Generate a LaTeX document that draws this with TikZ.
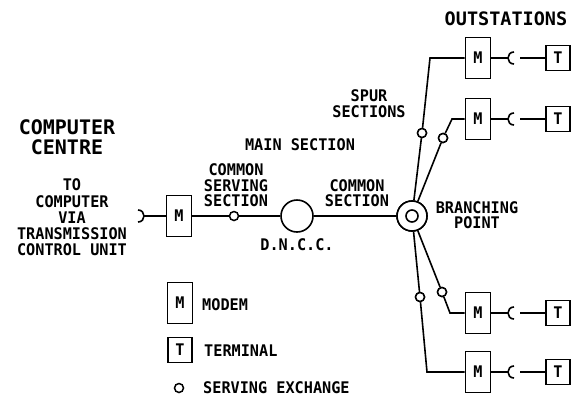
\documentclass[tikz,border=0pt]{standalone}
\usepackage{fontspec}
\setmainfont{DejaVu Sans}
\newfontfamily\lblfont{DejaVu Sans Mono Bold}[FakeStretch=0.95]
\newfontfamily\bigfont{DejaVu Sans Mono Bold}
\begin{document}
\begin{tikzpicture}[x=1pt,y=-1pt,
  ln/.style={line width=1.6pt},
  lbl/.style={font=\lblfont\fontsize{16}{16}\selectfont,align=center,inner sep=0pt},
  leg/.style={lbl,anchor=west},
  modem/.style={draw,line width=1.6pt,rectangle,minimum width=25pt,minimum height=41pt,inner sep=0pt,font=\lblfont\fontsize{16}{16}\selectfont},
  term/.style={draw,line width=1.6pt,rectangle,minimum width=24pt,minimum height=25pt,inner sep=0pt,font=\lblfont\fontsize{16}{16}\selectfont},
  sx/.style={draw,circle,line width=1.5pt,minimum size=9pt,inner sep=0pt,fill=white},
]
\useasboundingbox (0,0) rectangle (575,399);

% labels
\node[font=\bigfont\fontsize{20}{20}\selectfont,align=center,inner sep=0pt] (cc) at (67,137) {COMPUTER\\CENTRE};
\node[lbl,font=\lblfont\fontsize{16}{16.25}\selectfont] (tc) at (72,217.5) {TO\\COMPUTER\\VIA\\TRANSMISSION\\CONTROL UNIT};
\node[lbl,font=\lblfont\fontsize{16}{15.5}\selectfont] (css) at (236,185.5) {COMMON\\SERVING\\SECTION};
\node[lbl] (ms) at (300,145) {MAIN SECTION};
\node[lbl,font=\lblfont\fontsize{16}{15}\selectfont] (cs) at (357,193) {COMMON\\SECTION};
\node[lbl] (dl) at (297,245) {D.N.C.C.};
\node[lbl,font=\lblfont\fontsize{16}{15}\selectfont] (bl) at (477,215.5) {BRANCHING\\POINT};
\node[lbl] (sp) at (369,104) {SPUR\\SECTIONS};
\node[font=\bigfont\fontsize{18.5}{18.5}\selectfont,inner sep=0pt] (os) at (506,19) {OUTSTATIONS};

% main line
\coordinate (lp) at (138,216);
\node[modem] (m0) at (179,216) {M};
\node[sx] (s0) at (234,216) {};
\node[draw,circle,line width=1.6pt,minimum size=32pt,inner sep=0pt] (dncc) at (297,216) {};
\node[draw,circle,line width=1.6pt,minimum size=30pt,inner sep=0pt] (bp) at (412,216) {};

\draw[ln] (lp) ++(0,-6) .. controls +(8,0) and +(8,0) .. +(0,12);
\draw[ln] ([xshift=6pt]lp) -- (m0.west);
\draw[ln] (m0.east) -- (s0) -- (dncc.west);
\draw[ln] (dncc.east) -- (bp.west);

% outstations
\foreach \k/\y/\cx/\sxx/\syy in {1/58/430/422/133, 2/119/452/443/138, 3/313/450/442/292, 4/372/427/420/297}{
  \node[modem] (m\k) at (478,\y) {M};
  \node[term] (t\k) at (558,\y) {T};
  \coordinate (c\k) at (\cx,\y);
  \coordinate (p\k) at (508,\y);
  \coordinate (q\k) at (520,\y);
  \node[sx] (s\k) at (\sxx,\syy) {};
  \draw[ln] (bp) -- (s\k) -- (c\k) -- (m\k.west);
  \node[sx] at (s\k) {};
  \draw[ln] (m\k.east) -- (p\k);
  \draw[ln] ([shift={(6,-6)}]p\k) .. controls ([shift={(-2,-6)}]p\k) and ([shift={(-2,6)}]p\k) .. ([shift={(6,6)}]p\k);
  \draw[ln] (q\k) -- (t\k.west);
}
\node[draw,circle,line width=1.6pt,minimum size=30pt,inner sep=0pt,fill=white] (bpo) at (bp) {};
\node[draw,circle,line width=1.6pt,minimum size=12pt,inner sep=0pt] (bpi) at (bp) {};

% legend
\node[modem] (lm) at (180,303) {M};
\node[leg] (lmt) at (202,305) {MODEM};
\node[term] (lt) at (180,350) {T};
\node[leg] (ltt) at (204,351) {TERMINAL};
\node[sx] (ls) at (179,388) {};
\node[leg] (lst) at (203,388) {SERVING EXCHANGE};
\end{tikzpicture}
\end{document}
